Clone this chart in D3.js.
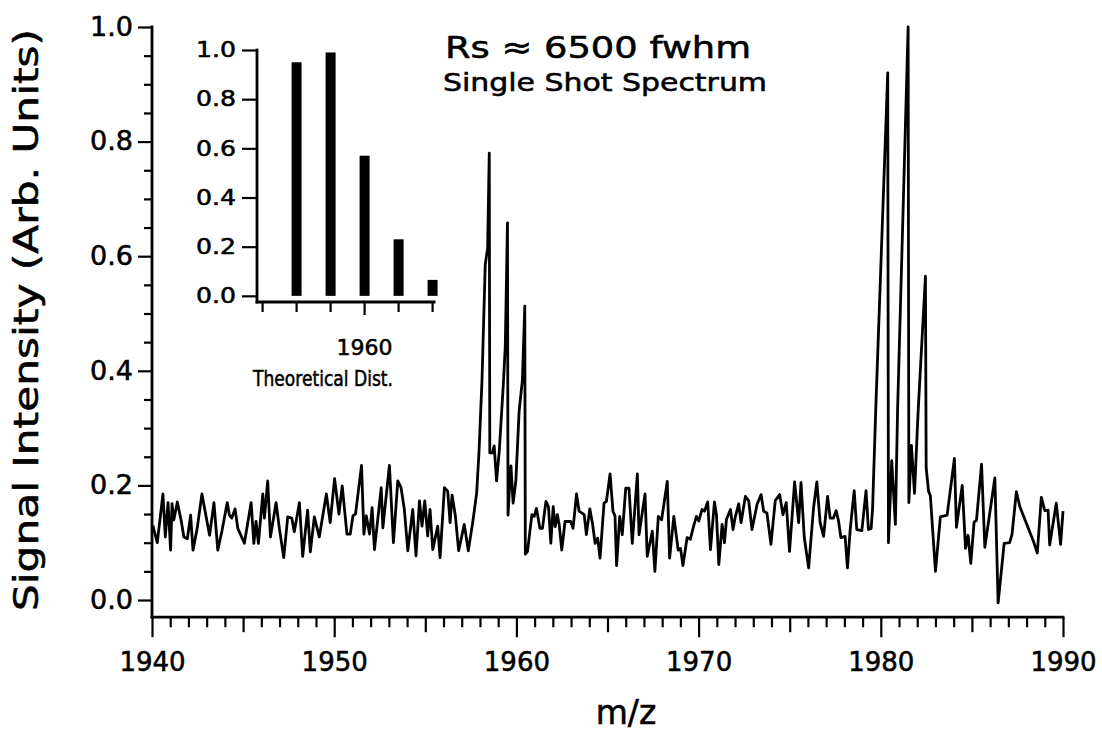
<!DOCTYPE html>
<html>
<head>
<meta charset="utf-8">
<script src="https://cdn.jsdelivr.net/npm/d3@7"></script>
<style>
  html, body { margin: 0; padding: 0; background: #fff; }
  svg { display: block; }
  text { font-family: "DejaVu Sans", sans-serif; fill: #000; stroke: #000; stroke-width: 0.55px; }
</style>
</head>
<body>
<svg id="chart" width="1102" height="740"></svg>
<script>
// ---------- DATA ----------
const mz = [
1940.05,1940.11,1940.29,1940.60,1940.73,1940.88,1941.02,1941.10,1941.20,1941.39,1941.61,1941.75,1941.94,1942.12,1942.25,1942.48,1942.74,1942.92,1943.16,1943.40,1943.61,1943.83,1944.13,1944.25,1944.38,1944.56,1944.71,1945.07,1945.44,1945.59,1945.71,1945.84,1946.08,1946.17,1946.35,1946.50,1946.81,1946.99,1947.23,1947.45,1947.67,1947.81,1948.09,1948.27,1948.54,1948.69,1948.91,1949.18,
1949.57,1949.78,1950.02,1950.26,1950.44,1950.70,1950.88,1951.03,1951.17,1951.50,1951.63,1951.76,1951.94,1952.08,1952.21,1952.58,1952.67,1953.03,1953.25,1953.49,1953.67,1953.85,1954.04,1954.31,1954.49,1954.68,1954.82,1954.97,1955.13,1955.26,1955.41,1955.68,1955.81,1956.05,1956.23,1956.36,1956.47,1956.65,1956.83,1957.14,1957.36,1957.60,1957.82,
1957.95,1958.11,1958.29,1958.42,1958.51,1958.54,1958.69,1958.78,1958.91,1959.06,1959.28,1959.39,1959.51,1959.54,1959.61,1959.70,1959.82,1959.97,1960.15,1960.33,1960.46,1960.49,1960.61,
1960.85,1960.98,1961.10,1961.29,1961.43,1961.62,1961.76,1961.89,1962.02,1962.13,1962.25,1962.35,1962.49,1962.67,1962.98,1963.11,1963.30,1963.44,1963.72,1963.84,1964.03,1964.17,1964.32,1964.46,1964.59,1964.81,1964.94,1965.14,1965.30,1965.41,1965.50,1965.67,1965.81,1966.00,1966.18,1966.36,1966.64,1966.73,1967.06,1967.18,1967.46,1967.60,1967.79,1967.97,1968.28,1968.41,1968.64,1968.88,1969.01,1969.14,
1969.37,1969.55,1969.70,1969.88,1970.01,1970.19,1970.32,1970.50,1970.65,1970.87,1970.98,1971.11,1971.29,1971.42,1971.53,1971.75,1971.89,1972.02,1972.20,1972.33,1972.57,1972.75,1972.93,1973.21,1973.43,1973.57,1973.75,1973.97,1974.21,1974.45,1974.63,1974.81,1974.99,1975.27,1975.49,1975.62,1975.80,1976.04,1976.31,1976.49,1976.67,1976.86,1977.08,1977.22,1977.40,1977.55,1977.68,1977.81,1978.04,1978.17,1978.32,1978.54,1978.68,1978.96,1979.19,1979.32,1979.47,
1979.55,1979.72,1980.38,1980.42,1980.60,1980.80,1980.92,1981.50,1981.54,1981.68,1981.85,1982.05,1982.45,1982.49,1982.62,1982.72,1983.00,1983.27,1983.64,1984.04,1984.15,1984.47,1984.65,1984.79,1984.94,1985.12,1985.25,1985.53,1985.71,1986.26,1986.44,1986.77,1987.07,1987.20,1987.44,1987.63,1988.36,1988.59,1988.81,1989.00,1989.18,1989.27,1989.63,1989.87,1990.00
];
const intensity = [
0.13,0.122,0.10,0.185,0.11,0.17,0.087,0.168,0.14,0.171,0.137,0.11,0.107,0.148,0.087,0.125,0.185,0.154,0.113,0.17,0.087,0.119,0.17,0.148,0.143,0.159,0.125,0.099,0.17,0.099,0.137,0.099,0.185,0.143,0.208,0.11,0.17,0.125,0.074,0.145,0.143,0.119,0.17,0.076,0.157,0.084,0.145,0.11,
0.185,0.135,0.212,0.150,0.199,0.115,0.115,0.147,0.150,0.235,0.115,0.147,0.115,0.161,0.088,0.196,0.126,0.235,0.100,0.208,0.196,0.158,0.086,0.158,0.077,0.173,0.129,0.173,0.112,0.158,0.088,0.129,0.074,0.196,0.190,0.135,0.183,0.147,0.086,0.132,0.086,0.135,0.187,
0.26,0.382,0.585,0.614,0.78,0.257,0.257,0.269,0.208,0.26,0.375,0.443,0.658,0.148,0.19,0.234,0.169,0.208,0.33,0.384,0.513,0.08,0.085,
0.149,0.146,0.160,0.125,0.125,0.172,0.163,0.099,0.163,0.128,0.149,0.131,0.087,0.137,0.137,0.125,0.185,0.155,0.149,0.114,0.159,0.135,0.099,0.108,0.073,0.169,0.172,0.220,0.155,0.147,0.060,0.146,0.114,0.195,0.195,0.099,0.220,0.114,0.185,0.076,0.120,0.050,0.146,0.140,0.207,0.073,0.146,0.087,0.090,0.060,
0.109,0.106,0.126,0.146,0.138,0.158,0.155,0.171,0.088,0.171,0.149,0.062,0.132,0.100,0.141,0.158,0.123,0.146,0.168,0.135,0.181,0.173,0.123,0.167,0.184,0.155,0.152,0.097,0.174,0.184,0.149,0.170,0.085,0.206,0.135,0.205,0.109,0.056,0.161,0.206,0.135,0.111,0.181,0.143,0.143,0.156,0.138,0.109,0.111,0.056,0.123,0.191,0.123,0.121,0.191,0.123,0.125,
0.16,0.33,0.92,0.10,0.243,0.132,0.33,1.0,0.17,0.27,0.186,0.33,0.565,0.231,0.19,0.182,0.05,0.145,0.148,0.247,0.127,0.20,0.09,0.113,0.064,0.136,0.139,0.237,0.092,0.213,-0.005,0.099,0.10,0.114,0.189,0.163,0.104,0.082,0.179,0.156,0.157,0.096,0.169,0.097,0.155
];

// Inset: theoretical isotope distribution
const insetMz = [1958, 1959, 1960, 1961, 1962];
const insetValues = [0.95, 0.99, 0.57, 0.23, 0.065];

const xMajorTicks = [1940, 1950, 1960, 1970, 1980, 1990];
const yMajorTicks = [0.0, 0.2, 0.4, 0.6, 0.8, 1.0];
const insetYTicks = [0.0, 0.2, 0.4, 0.6, 0.8, 1.0];
const insetXTicks = [1957, 1958, 1959, 1960, 1961, 1962];
const insetXLabels = [1960];

const titleText = "Rs \u2248 6500 fwhm";
const subtitleText = "Single Shot Spectrum";
const xTitle = "m/z";
const yTitle = "Signal Intensity (Arb. Units)";
const insetTitle = "Theoretical Dist.";

// ---------- CHART ----------
const svg = d3.select("#chart");
const x = d3.scaleLinear().domain([1940, 1990]).range([152, 1063]);
const y = d3.scaleLinear().domain([-0.03, 1.0]).range([617.2, 27]);

const AX = 2.8;

// x axis
const xAxis = d3.axisBottom(x)
  .tickValues(d3.range(1940, 1991, 1))
  .tickFormat(d => (xMajorTicks.includes(d) ? d : ""))
  .tickSizeOuter(0);
const gx = svg.append("g").attr("transform", `translate(0,${y(-0.03)})`).call(xAxis);
gx.select(".domain").attr("stroke", "#000").attr("stroke-width", AX)
  .attr("d", `M${x(1940) - 1.4},0H${x(1990) + 1.4}`);
gx.selectAll(".tick line").attr("stroke", "#000").attr("stroke-width", 2.2)
  .attr("y2", d => d % 10 === 0 ? 20 : (d % 5 === 0 ? 15 : 10));
gx.selectAll(".tick text").attr("y", 35).attr("dy", "0.71em")
  .style("font-size", "26px").style("font-family", "DejaVu Sans");

// y axis
const yAxis = d3.axisLeft(y)
  .tickValues(d3.range(0, 1.0001, 0.05).map(v => +v.toFixed(2)))
  .tickFormat(d => (yMajorTicks.includes(d) ? d3.format(".1f")(d) : ""))
  .tickSizeOuter(0);
const gy = svg.append("g").attr("transform", `translate(${x(1940)},0)`).call(yAxis);
gy.select(".domain").attr("stroke", "#000").attr("stroke-width", AX)
  .attr("d", `M0,${y(1.0) - 1.4}V${y(-0.03) + 1.4}`);
gy.selectAll(".tick line").attr("stroke", "#000").attr("stroke-width", 2.2)
  .attr("x2", d => (yMajorTicks.includes(d) ? -14 : -8));
gy.selectAll(".tick text").attr("x", -19)
  .attr("textLength", 43).attr("lengthAdjust", "spacingAndGlyphs")
  .style("font-size", "26px").style("font-family", "DejaVu Sans");

// spectrum line
const pts = mz.map((m, i) => [m, intensity[i]]);
svg.append("path")
  .datum(pts)
  .attr("fill", "none")
  .attr("stroke", "#000")
  .attr("stroke-width", 2.8)
  .attr("stroke-linejoin", "round")
  .attr("d", d3.line().x(d => x(d[0])).y(d => y(d[1])));

// axis titles
svg.append("text")
  .attr("transform", "translate(38,320) rotate(-90)")
  .attr("text-anchor", "middle")
  .attr("textLength", 582)
  .attr("lengthAdjust", "spacingAndGlyphs")
  .style("font-size", "33px")
  .text(yTitle);
svg.append("text")
  .attr("x", 626).attr("y", 724)
  .attr("text-anchor", "middle")
  .style("font-size", "33px")
  .text(xTitle);

// titles
svg.append("text")
  .attr("x", 598).attr("y", 58)
  .attr("text-anchor", "middle")
  .attr("textLength", 306)
  .attr("lengthAdjust", "spacingAndGlyphs")
  .style("font-size", "31px")
  .text(titleText);
svg.append("text")
  .attr("x", 605).attr("y", 91)
  .attr("text-anchor", "middle")
  .attr("textLength", 324)
  .attr("lengthAdjust", "spacingAndGlyphs")
  .style("font-size", "25px")
  .text(subtitleText);

// ---------- INSET ----------
const xi = d3.scaleLinear().domain([1956.85, 1962.1]).range([257, 435.5]);
const yi = d3.scaleLinear().domain([-0.025, 1.0]).range([302, 50]);
const gi = svg.append("g");

const ixAxis = d3.axisBottom(xi)
  .tickValues(insetXTicks)
  .tickFormat(d => (insetXLabels.includes(d) ? d : ""))
  .tickSizeOuter(0);
const gix = gi.append("g").attr("transform", `translate(0,${yi(-0.025)})`).call(ixAxis);
gix.select(".domain").attr("stroke", "#000").attr("stroke-width", AX)
  .attr("d", `M${xi(1956.85) - 1.4},0H${xi(1962.1)}`);
gix.selectAll(".tick line").attr("stroke", "#000").attr("stroke-width", 2.2)
  .attr("y2", d => (insetXLabels.includes(d) ? 13 : 10));
gix.selectAll(".tick text").attr("y", 37).attr("dy", "0.71em")
  .style("font-size", "22px").style("font-family", "DejaVu Sans");

const iyAxis = d3.axisLeft(yi)
  .tickValues(insetYTicks)
  .tickFormat(d3.format(".1f"))
  .tickSizeOuter(0);
const giy = gi.append("g").attr("transform", `translate(${xi(1956.85)},0)`).call(iyAxis);
giy.select(".domain").attr("stroke", "#000").attr("stroke-width", AX)
  .attr("d", `M0,${yi(1.0) - 1.4}V${yi(-0.025) + 1.4}`);
giy.selectAll(".tick line").attr("stroke", "#000").attr("stroke-width", 2.2).attr("x2", -15);
giy.selectAll(".tick text").attr("x", -21)
  .attr("textLength", 40).attr("lengthAdjust", "spacingAndGlyphs")
  .style("font-size", "21px").style("font-family", "DejaVu Sans");

gi.selectAll("rect.bar")
  .data(insetMz.map((m, i) => ({ m, v: insetValues[i] })))
  .enter().append("rect")
  .attr("class", "bar")
  .attr("x", d => xi(d.m) - 4.5)
  .attr("width", 10)
  .attr("y", d => yi(d.v))
  .attr("height", d => yi(0) - yi(d.v))
  .attr("fill", "#000");

gi.append("text")
  .attr("x", 323).attr("y", 386)
  .attr("text-anchor", "middle")
  .attr("textLength", 140)
  .attr("lengthAdjust", "spacingAndGlyphs")
  .style("font-size", "21px")
  .text(insetTitle);
</script>
</body>
</html>
